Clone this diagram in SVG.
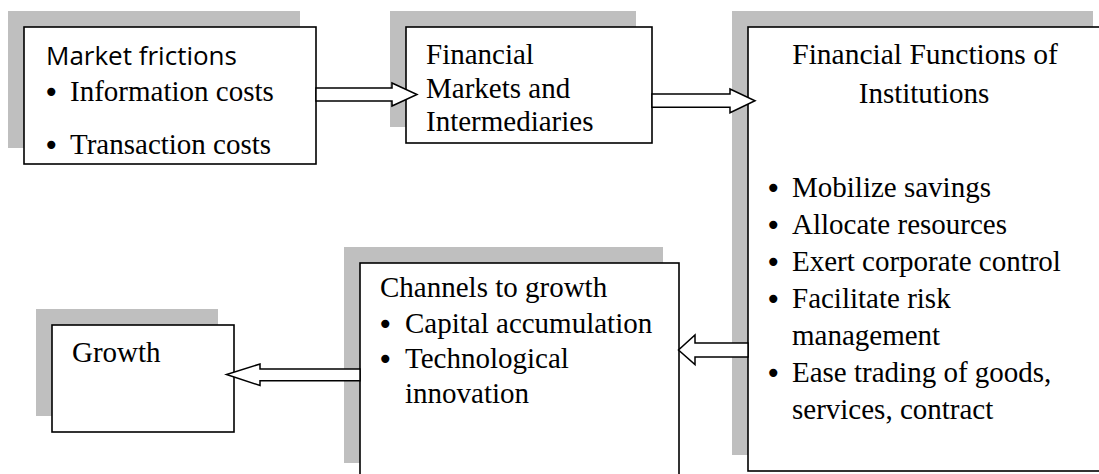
<svg xmlns="http://www.w3.org/2000/svg" width="1099" height="474" viewBox="0 0 1099 474">
  <style>
    .shadow { fill: #bfbfbf; }
    .box { fill: #ffffff; stroke: #000000; stroke-width: 1.6; }
    .arrow { fill: #ffffff; stroke: #000000; stroke-width: 1.5; stroke-linejoin: miter; }
    .serif { font-family: "Liberation Serif", "Times New Roman", serif; font-size: 29px; fill: #000000; }
    .sans { font-family: "Open Sans", "Liberation Sans", Arial, sans-serif; font-size: 26px; fill: #000000; }
    .bul { font-family: "DejaVu Sans", "Liberation Sans", sans-serif; font-size: 28px; fill: #000000; }
  </style>

  <!-- Market frictions -->
  <g id="market-frictions">
    <rect class="shadow" x="8" y="11" width="292" height="137"/>
    <rect class="box" x="24" y="27" width="292" height="137"/>
    <text class="sans" x="46" y="65">Market frictions</text>
    <text class="bul" x="43" y="102">•</text>
    <text class="serif" x="70" y="101">Information costs</text>
    <text class="bul" x="43" y="155">•</text>
    <text class="serif" x="70" y="154">Transaction costs</text>
  </g>

  <!-- Financial markets and intermediaries -->
  <g id="markets-intermediaries">
    <rect class="shadow" x="390" y="11" width="246" height="116"/>
    <rect class="box" x="406" y="27" width="246" height="116"/>
    <text class="serif" x="426" y="64">Financial</text>
    <text class="serif" x="426" y="98">Markets and</text>
    <text class="serif" x="426" y="131">Intermediaries</text>
  </g>

  <!-- Financial functions -->
  <g id="financial-functions">
    <rect class="shadow" x="732" y="11" width="361" height="444"/>
    <rect class="box" x="748" y="27" width="361" height="444"/>
    <text class="serif" x="925" y="64" text-anchor="middle" style="font-size:29.5px">Financial Functions of</text>
    <text class="serif" x="924" y="103" text-anchor="middle">Institutions</text>
    <text class="bul" x="765" y="198">•</text>
    <text class="serif" x="792" y="197">Mobilize savings</text>
    <text class="bul" x="765" y="235">•</text>
    <text class="serif" x="792" y="234">Allocate resources</text>
    <text class="bul" x="765" y="272">•</text>
    <text class="serif" x="792" y="271">Exert corporate control</text>
    <text class="bul" x="765" y="309">•</text>
    <text class="serif" x="792" y="308">Facilitate risk</text>
    <text class="serif" x="792" y="345">management</text>
    <text class="bul" x="765" y="383">•</text>
    <text class="serif" x="792" y="382">Ease trading of goods,</text>
    <text class="serif" x="792" y="419">services, contract</text>
  </g>

  <!-- Channels to growth -->
  <g id="channels">
    <rect class="shadow" x="344" y="247" width="319" height="216"/>
    <rect class="box" x="360" y="263" width="319" height="216"/>
    <text class="serif" x="380" y="297">Channels to growth</text>
    <text class="bul" x="377" y="334">•</text>
    <text class="serif" x="405" y="333">Capital accumulation</text>
    <text class="bul" x="377" y="369">•</text>
    <text class="serif" x="405" y="368">Technological</text>
    <text class="serif" x="405" y="403">innovation</text>
  </g>

  <!-- Growth -->
  <g id="growth">
    <rect class="shadow" x="36" y="309" width="182" height="107"/>
    <rect class="box" x="52" y="325" width="182" height="107"/>
    <text class="serif" x="72" y="362">Growth</text>
  </g>

  <!-- Block arrows between the stages -->
  <g id="connectors">
    <polygon class="arrow" points="316,88 392,88 392,83 417,94.5 392,106 392,101 316,101"/>
    <polygon class="arrow" points="652,94 730,94 730,89 755,100.7 730,112.7 730,107.3 652,107.3"/>
    <polygon class="arrow" points="748,343 695,343 695,335 678.5,350 695,364.5 695,357 748,357"/>
    <polygon class="arrow" points="360,369 260,369 260,364 226.5,374.5 260,385.5 260,380.7 360,380.7"/>
  </g>
</svg>
